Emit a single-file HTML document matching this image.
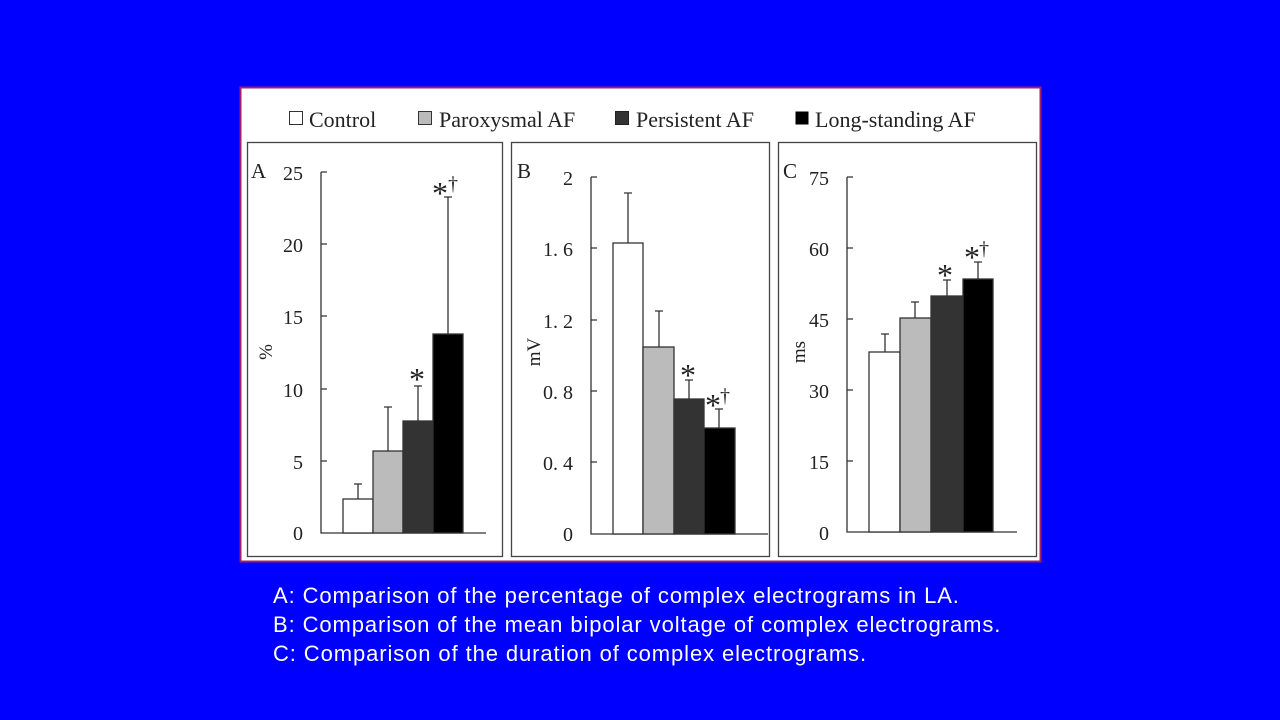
<!DOCTYPE html>
<html><head><meta charset="utf-8"><style>
html,body{margin:0;padding:0;background:#0000ff;width:1280px;height:720px;overflow:hidden}
svg{position:absolute;left:0;top:0}
.cap{position:absolute;left:273px;color:#fff;font:22px "Liberation Sans",sans-serif;letter-spacing:0.9px;white-space:nowrap}
</style></head><body>
<svg width="1280" height="720" xmlns="http://www.w3.org/2000/svg" font-family="Liberation Serif, serif">
<rect x="240.5" y="87.5" width="800" height="474" fill="#fff" stroke="#a0206a" stroke-width="2"/>
<!-- legend -->
<g font-size="22" fill="#222">
<rect x="289.5" y="111.5" width="13" height="13" fill="#fff" stroke="#333"/><text x="309" y="127">Control</text>
<rect x="418.5" y="111.5" width="13" height="13" fill="#bbb" stroke="#333"/><text x="439" y="127">Paroxysmal AF</text>
<rect x="615.5" y="111.5" width="13" height="13" fill="#333" stroke="#222"/><text x="636" y="127">Persistent AF</text>
<rect x="795.5" y="111.5" width="13" height="13" fill="#000"/><text x="815" y="127">Long-standing AF</text>
</g>
<g fill="none" stroke="#444" stroke-width="1.3">
<rect x="247.5" y="142.5" width="255" height="414"/>
<rect x="511.5" y="142.5" width="258" height="414"/>
<rect x="778.5" y="142.5" width="258" height="414"/>
</g>
<g font-size="21" fill="#222">
<text x="251" y="178">A</text><text x="517" y="178">B</text><text x="783" y="178">C</text>
</g>
<!-- Panel A -->
<g stroke="#333" stroke-width="1.3" fill="none">
<path d="M321 172V533H486"/>
<path d="M321 172h6M321 244h6M321 316h6M321 389h6M321 461h6"/>
</g>
<g font-size="20" fill="#222" text-anchor="end">
<text x="303" y="180">25</text><text x="303" y="252">20</text><text x="303" y="324">15</text><text x="303" y="397">10</text><text x="303" y="469">5</text><text x="303" y="540">0</text>
</g>
<text x="272" y="352" font-size="19" fill="#222" transform="rotate(-90 272 352)" text-anchor="middle">%</text>
<g stroke="#333" stroke-width="1.3">
<path d="M358 499V484M354 484h8M388 451V407M384 407h8M418 421V386M414 386h8M448 334V197M444 197h8"/>
<rect x="343" y="499" width="30" height="34" fill="#fff"/>
<rect x="373" y="451" width="30" height="82" fill="#bbb"/>
<rect x="403" y="421" width="30" height="112" fill="#333"/>
<rect x="433" y="334" width="30" height="199" fill="#000"/>
</g>
<!-- Panel B -->
<g stroke="#333" stroke-width="1.3" fill="none">
<path d="M591 177V534H768"/>
<path d="M591 177h6M591 248h6M591 320h6M591 391h6M591 462h6"/>
</g>
<g font-size="20" fill="#222" text-anchor="end">
<text x="573" y="185">2</text><text x="573" y="256">1. 6</text><text x="573" y="328">1. 2</text><text x="573" y="399">0. 8</text><text x="573" y="470">0. 4</text><text x="573" y="541">0</text>
</g>
<text x="540" y="352" font-size="19" fill="#222" transform="rotate(-90 540 352)" text-anchor="middle">mV</text>
<g stroke="#333" stroke-width="1.3">
<path d="M628 243V193M624 193h8M659 347V311M655 311h8M689 399V380M685 380h8M719 428V409M715 409h8"/>
<rect x="613" y="243" width="30" height="291" fill="#fff"/>
<rect x="643" y="347" width="31" height="187" fill="#bbb"/>
<rect x="674" y="399" width="30" height="135" fill="#333"/>
<rect x="704" y="428" width="31" height="106" fill="#000"/>
</g>
<!-- Panel C -->
<g stroke="#333" stroke-width="1.3" fill="none">
<path d="M847 177V532H1017"/>
<path d="M847 177h6M847 248h6M847 319h6M847 390h6M847 461h6"/>
</g>
<g font-size="20" fill="#222" text-anchor="end">
<text x="829" y="185">75</text><text x="829" y="256">60</text><text x="829" y="327">45</text><text x="829" y="398">30</text><text x="829" y="469">15</text><text x="829" y="540">0</text>
</g>
<text x="805" y="352" font-size="19" fill="#222" transform="rotate(-90 805 352)" text-anchor="middle">ms</text>
<g stroke="#333" stroke-width="1.3">
<path d="M885 352V334M881 334h8M915 318V302M911 302h8M947 296V280M943 280h8M978 279V262M974 262h8"/>
<rect x="869" y="352" width="31" height="180" fill="#fff"/>
<rect x="900" y="318" width="31" height="214" fill="#bbb"/>
<rect x="931" y="296" width="32" height="236" fill="#333"/>
<rect x="963" y="279" width="30" height="253" fill="#000"/>
</g>
<!-- significance marks -->
<g font-size="32" fill="#222">
<text x="409" y="390">*</text><text x="432" y="204">*</text>
<text x="680" y="386">*</text><text x="705" y="416">*</text>
<text x="937" y="286">*</text><text x="964" y="268">*</text>
</g>
<g font-size="20" fill="#222">
<text x="448" y="190">†</text><text x="720" y="402">†</text><text x="979" y="255">†</text>
</g>
</svg>
<div class="cap" style="top:583px">A: Comparison of the percentage of complex electrograms in LA.</div>
<div class="cap" style="top:612px">B: Comparison of the mean bipolar voltage of complex electrograms.</div>
<div class="cap" style="top:641px">C: Comparison of the duration of complex electrograms.</div>
</body></html>
